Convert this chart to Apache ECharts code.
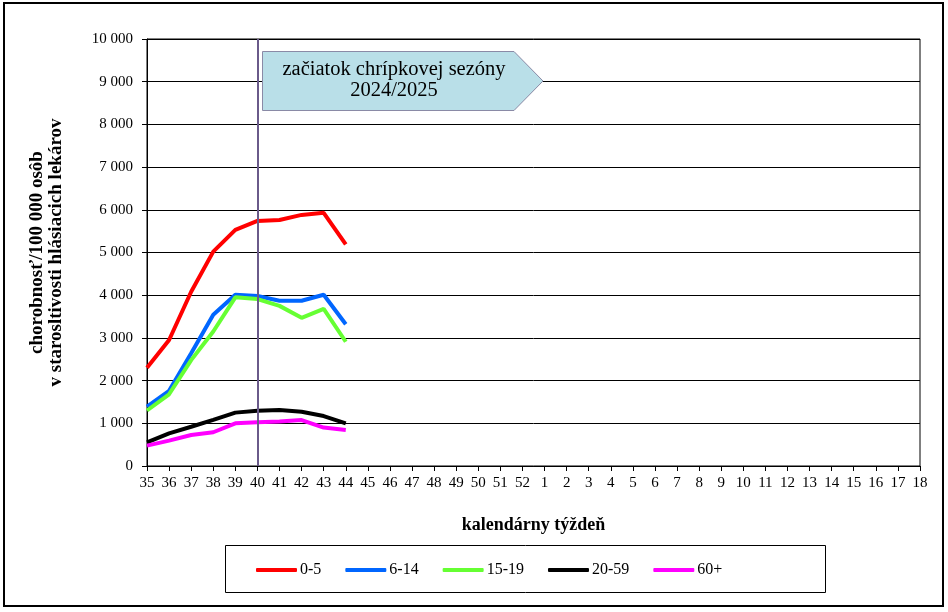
<!DOCTYPE html>
<html>
<head>
<meta charset="utf-8">
<script src="https://cdn.jsdelivr.net/npm/echarts@6/dist/echarts.min.js"></script>
<style>
html,body{margin:0;padding:0;background:#fff;}
#c{width:948px;height:612px;}
</style>
</head>
<body>
<div id="c"></div>
<script>
const weeks = ['35','36','37','38','39','40','41','42','43','44','45','46','47','48','49','50','51','52',
  '1','2','3','4','5','6','7','8','9','10','11','12','13','14','15','16','17','18'];
const s0_5   = [2300, 2950, 4080, 5020, 5530, 5740, 5760, 5880, 5930, 5190];
const s6_14  = [1390, 1760, 2640, 3540, 4010, 3980, 3870, 3870, 4010, 3320];
const s15_19 = [1300, 1680, 2480, 3150, 3950, 3910, 3750, 3470, 3680, 2910];
const s20_59 = [555, 765, 920, 1080, 1250, 1295, 1310, 1270, 1170, 1000];
const s60p   = [476, 595, 725, 790, 1000, 1025, 1040, 1075, 900, 845];
const seriesNames = ['0-5','6-14','15-19','20-59','60+'];
const seasonStartWeek = '40';

function pad(a){ const r = a.slice(); while(r.length<weeks.length) r.push(null); return r; }
const colors = ['#ff0000','#0066ff','#66ff33','#000000','#ff00ff'];
const datas = [s0_5,s6_14,s15_19,s20_59,s60p];
const font = 'Liberation Serif';

const chart = echarts.init(document.getElementById('c'), null, {renderer:'canvas'});
const series = datas.map((d,i)=>({
  name: seriesNames[i], type:'line', data: pad(d), showSymbol:false, symbol:'none',
  lineStyle:{color:colors[i], width:4}, itemStyle:{color:colors[i]}, animation:false,
  connectNulls:false
}));
series[0].markLine = {
  silent:true, symbol:'none', animation:false,
  label:{show:false},
  lineStyle:{color:'#6a5a8a', width:2, type:'solid'},
  data:[{xAxis: seasonStartWeek}]
};
chart.setOption({
  animation:false,
  backgroundColor:'#fff',
  textStyle:{fontFamily:font},
  grid:{left:147, right:28, top:39, bottom:146, show:true, borderColor:'#000', borderWidth:1, containLabel:false},
  xAxis:{
    type:'category', data:weeks, boundaryGap:false,
    name:'kalendárny týždeň', nameLocation:'middle', nameGap:50,
    nameTextStyle:{fontFamily:font, fontWeight:'bold', fontSize:18, color:'#000'},
    axisLine:{lineStyle:{color:'#000', width:1}},
    axisTick:{show:true, length:5, inside:false, alignWithLabel:true, lineStyle:{color:'#000'}},
    axisLabel:{fontFamily:font, fontSize:15, color:'#000', margin:10, interval:0},
    splitLine:{show:false}
  },
  yAxis:{
    type:'value', min:0, max:10000, interval:1000,
    name:'chorobnosť/100 000 osôb\nv starosltivosti hlásiacich lekárov',
    nameLocation:'middle', nameGap:81, nameRotate:90,
    nameTextStyle:{fontFamily:font, fontWeight:'bold', fontSize:19, color:'#000', lineHeight:19},
    axisLine:{show:true, lineStyle:{color:'#000', width:1}},
    axisTick:{show:true, length:5, lineStyle:{color:'#000'}},
    axisLabel:{fontFamily:font, fontSize:15, color:'#000', margin:14,
      formatter:function(v){ return String(v).replace(/\B(?=(\d{3})+(?!\d))/g,' '); }},
    splitLine:{show:true, lineStyle:{color:'#000', width:1}}
  },
  legend:{
    data:seriesNames, left:251, top:557, itemWidth:41, itemHeight:4, itemGap:24,
    icon:'roundRect',
    textStyle:{fontFamily:font, fontSize:16, color:'#000', padding:[0,0,0,-2]}
  },
  series: series,
  graphic:[
    {type:'rect', shape:{x:4, y:3, width:939, height:603}, style:{fill:'none', stroke:'#000', lineWidth:2}, z:-1},
    {type:'rect', shape:{x:225.5, y:545.5, width:600, height:47}, style:{fill:'none', stroke:'#000', lineWidth:1}},
    {type:'polygon', shape:{points:[[262.5,51.5],[514,51.5],[543,81],[514,110.5],[262.5,110.5]]},
      style:{fill:'#b9dfe8', stroke:'#8a8aa6', lineWidth:1}, z:10},
    {type:'text', x:394, y:80, z:11,
      style:{text:'začiatok chrípkovej sezóny\n2024/2025', font:'20.5px "Liberation Serif"', fill:'#000',
        align:'center', verticalAlign:'middle', lineHeight:21}}
  ]
});
</script>
</body>
</html>
